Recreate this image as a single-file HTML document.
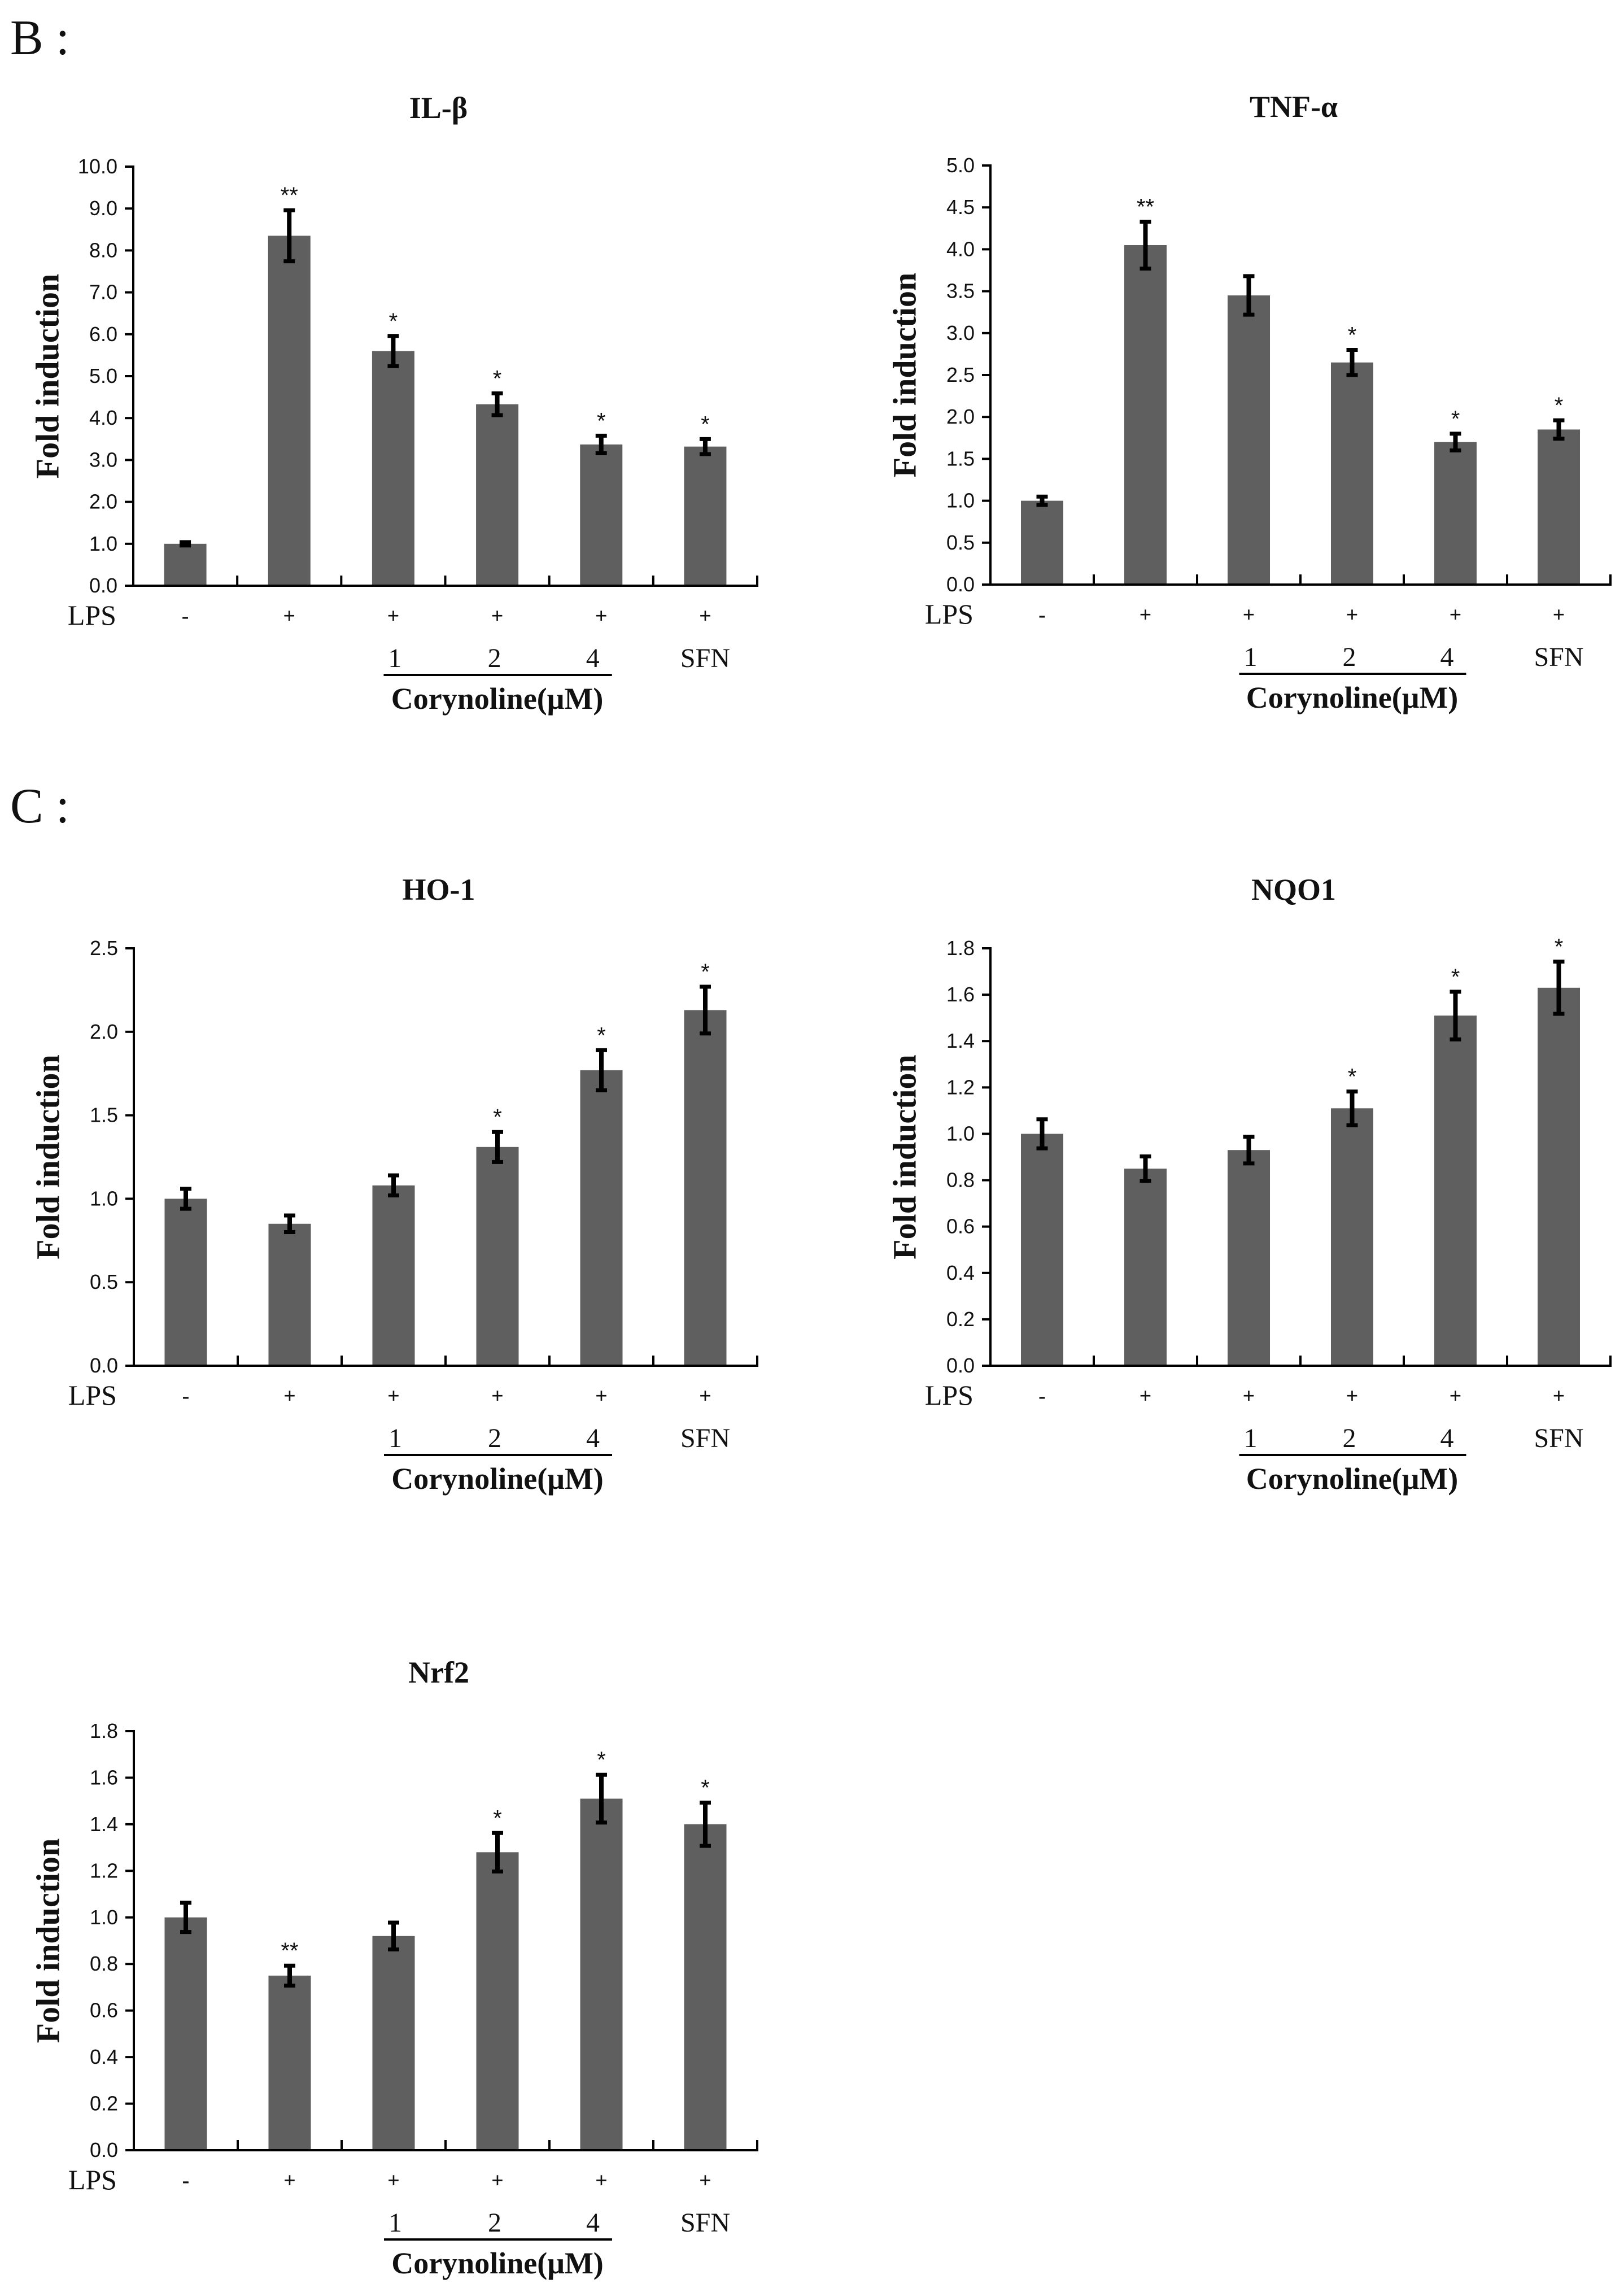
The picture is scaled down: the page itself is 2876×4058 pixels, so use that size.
<!DOCTYPE html>
<html>
<head>
<meta charset="utf-8">
<style>
  html,body{margin:0;padding:0;background:#fff;}
  svg{display:block;}
  .serif{font-family:"Liberation Serif","DejaVu Serif",serif;}
  .sans{font-family:"Liberation Sans","DejaVu Sans",sans-serif;}
</style>
</head>
<body>
<svg id="fig" xmlns="http://www.w3.org/2000/svg" width="2876" height="4058" viewBox="0 0 2876 4058">
  <text x="18" y="96" class="serif" font-size="88" fill="#111" xml:space="preserve">B :</text>
  <text x="18" y="1456" class="serif" font-size="88" fill="#111" xml:space="preserve">C :</text>
</svg>
<script>
// ---- data ----
const categories = ["ctrl", "lps", "cor1", "cor2", "cor4", "sfn"];
const lpsSigns = ["-", "+", "+", "+", "+", "+"];
const doseLabels = ["", "", "1", "2", "4", "SFN"];

const ilbTicks = ["0.0","1.0","2.0","3.0","4.0","5.0","6.0","7.0","8.0","9.0","10.0"];
const ilbValues = [1.0, 8.35, 5.6, 4.33, 3.37, 3.32];
const ilbErrors = [0.08, 0.65, 0.4, 0.3, 0.25, 0.22];
const ilbStars = ["", "**", "*", "*", "*", "*"];

const tnfTicks = ["0.0","0.5","1.0","1.5","2.0","2.5","3.0","3.5","4.0","4.5","5.0"];
const tnfValues = [1.0, 4.05, 3.45, 2.65, 1.7, 1.85];
const tnfErrors = [0.07, 0.3, 0.25, 0.17, 0.12, 0.13];
const tnfStars = ["", "**", "", "*", "*", "*"];

const ho1Ticks = ["0.0","0.5","1.0","1.5","2.0","2.5"];
const ho1Values = [1.0, 0.85, 1.08, 1.31, 1.77, 2.13];
const ho1Errors = [0.07, 0.06, 0.07, 0.1, 0.13, 0.15];
const ho1Stars = ["", "", "", "*", "*", "*"];

const nqoTicks = ["0.0","0.2","0.4","0.6","0.8","1.0","1.2","1.4","1.6","1.8"];
const nqoValues = [1.0, 0.85, 0.93, 1.11, 1.51, 1.63];
const nqoErrors = [0.07, 0.06, 0.065, 0.08, 0.11, 0.12];
const nqoStars = ["", "", "", "*", "*", "*"];

const nrfTicks = ["0.0","0.2","0.4","0.6","0.8","1.0","1.2","1.4","1.6","1.8"];
const nrfValues = [1.0, 0.75, 0.92, 1.28, 1.51, 1.40];
const nrfErrors = [0.07, 0.05, 0.065, 0.09, 0.11, 0.1];
const nrfStars = ["", "**", "", "*", "*", "*"];

// ---- drawing ----
const NS = "http://www.w3.org/2000/svg";
const svg = document.getElementById("fig");
function mk(tag, attrs, parent) {
  const e = document.createElementNS(NS, tag);
  for (const k in attrs) e.setAttribute(k, attrs[k]);
  (parent || svg).appendChild(e);
  return e;
}

function drawChart(key, title, ticks, values, errors, stars, L) {
  const g = mk("g", {});
  
  
  const yMax = parseFloat(ticks[ticks.length - 1]);
  const yScale = v => L.y0 - (v / yMax) * (L.y0 - L.yTop);
  const n = categories.length;
  const cw = (L.x1 - L.x0) / n;
  const xCenter = i => L.x0 + cw * (i + 0.5);

  const t = mk("text", {x: (L.x0 + L.x1) / 2 - 12, y: L.yTop - 86, "text-anchor": "middle", class: "serif", "font-size": 54, "font-weight": "bold", fill: "#111"}, g);
  t.textContent = title;
  
  

  const cy = (L.y0 + L.yTop) / 2;
  const yt = mk("text", {x: L.x0 - 152, y: cy, "text-anchor": "middle", class: "serif", "font-size": 58, "font-weight": "bold", fill: "#111", transform: `rotate(-90 ${L.x0 - 152} ${cy})`, "dominant-baseline": "central", "xml:space": "preserve"}, g);
  yt.textContent = "Fold  induction";
  
  

  values.forEach((v, i) => {
    const bw = 75;
    const r = mk("rect", {x: xCenter(i) - bw / 2, y: yScale(v), width: bw, height: L.y0 - yScale(v), fill: "#5f5f5f"}, g);
    
    
    const e = errors[i];
    const top = yScale(v + e), bot = yScale(v - e);
    const eb = mk("g", {}, g);
    
    
    mk("line", {x1: xCenter(i), x2: xCenter(i), y1: top, y2: bot, stroke: "#000", "stroke-width": 8}, eb);
    mk("line", {x1: xCenter(i) - 10, x2: xCenter(i) + 10, y1: top + 3, y2: top + 3, stroke: "#000", "stroke-width": 7}, eb);
    mk("line", {x1: xCenter(i) - 10, x2: xCenter(i) + 10, y1: bot - 3, y2: bot - 3, stroke: "#000", "stroke-width": 7}, eb);
    if (stars[i]) {
      const s = mk("text", {x: xCenter(i), y: top - 10, "text-anchor": "middle", class: "sans", "font-size": 40, fill: "#111"}, g);
      s.textContent = stars[i];
      
      
    }
  });

  const ax = mk("g", {stroke: "#000", "stroke-width": 4}, g);
  
  
  mk("line", {x1: L.x0, x2: L.x0, y1: L.yTop - 2, y2: L.y0 + 2}, ax);
  mk("line", {x1: L.x0 - 15, x2: L.x1 + 2, y1: L.y0, y2: L.y0}, ax);
  for (let i = 1; i <= n; i++) {
    const x = L.x0 + cw * i;
    mk("line", {x1: x, x2: x, y1: L.y0, y2: L.y0 - 18}, ax);
  }
  ticks.forEach(tk => {
    const y = yScale(parseFloat(tk));
    mk("line", {x1: L.x0 - 15, x2: L.x0, y1: y, y2: y}, ax);
    const lt = mk("text", {x: L.x0 - 28, y: y + 12, "text-anchor": "end", class: "sans", "font-size": 36, fill: "#111", stroke: "none"}, g);
    lt.textContent = tk;
    
    
  });

  const lps = mk("text", {x: L.x0 - 30, y: L.y0 + 69, "text-anchor": "end", class: "serif", "font-size": 50, fill: "#111"}, g);
  lps.textContent = "LPS";
  
  
  lpsSigns.forEach((s, i) => {
    const st = mk("text", {x: xCenter(i), y: L.y0 + 66, "text-anchor": "middle", class: "serif", "font-size": 38, "font-weight": "bold", fill: "#111"}, g);
    st.textContent = s;
    
    
  });
  const dOff = [0, 0, 3, -5, -15, 0];
  doseLabels.forEach((d, i) => {
    if (!d) return;
    const dt = mk("text", {x: xCenter(i) + dOff[i], y: L.y0 + 144, "text-anchor": "middle", class: "serif", "font-size": 48, fill: "#111"}, g);
    dt.textContent = d;
    
    
  });
  const ul = mk("line", {x1: xCenter(2) - 17, x2: xCenter(4) + 19, y1: L.y0 + 158, y2: L.y0 + 158, stroke: "#000", "stroke-width": 4}, g);
  
  
  const cg = mk("text", {x: xCenter(3), y: L.y0 + 218, "text-anchor": "middle", class: "serif", "font-size": 54, "font-weight": "bold", fill: "#111"}, g);
  cg.textContent = "Corynoline(\u03BCM)";
  
  
}

drawChart("il-beta", "IL-\u03B2", ilbTicks, ilbValues, ilbErrors, ilbStars, {x0: 236, x1: 1341, y0: 1037, yTop: 295});
drawChart("tnf-alpha", "TNF-\u03B1", tnfTicks, tnfValues, tnfErrors, tnfStars, {x0: 1754, x1: 2852, y0: 1035, yTop: 293});
drawChart("ho-1", "HO-1", ho1Ticks, ho1Values, ho1Errors, ho1Stars, {x0: 237, x1: 1341, y0: 2418, yTop: 1679});
drawChart("nqo1", "NQO1", nqoTicks, nqoValues, nqoErrors, nqoStars, {x0: 1754, x1: 2852, y0: 2418, yTop: 1679});
drawChart("nrf2", "Nrf2", nrfTicks, nrfValues, nrfErrors, nrfStars, {x0: 237, x1: 1341, y0: 3807, yTop: 3065});
</script>
</body>
</html>
